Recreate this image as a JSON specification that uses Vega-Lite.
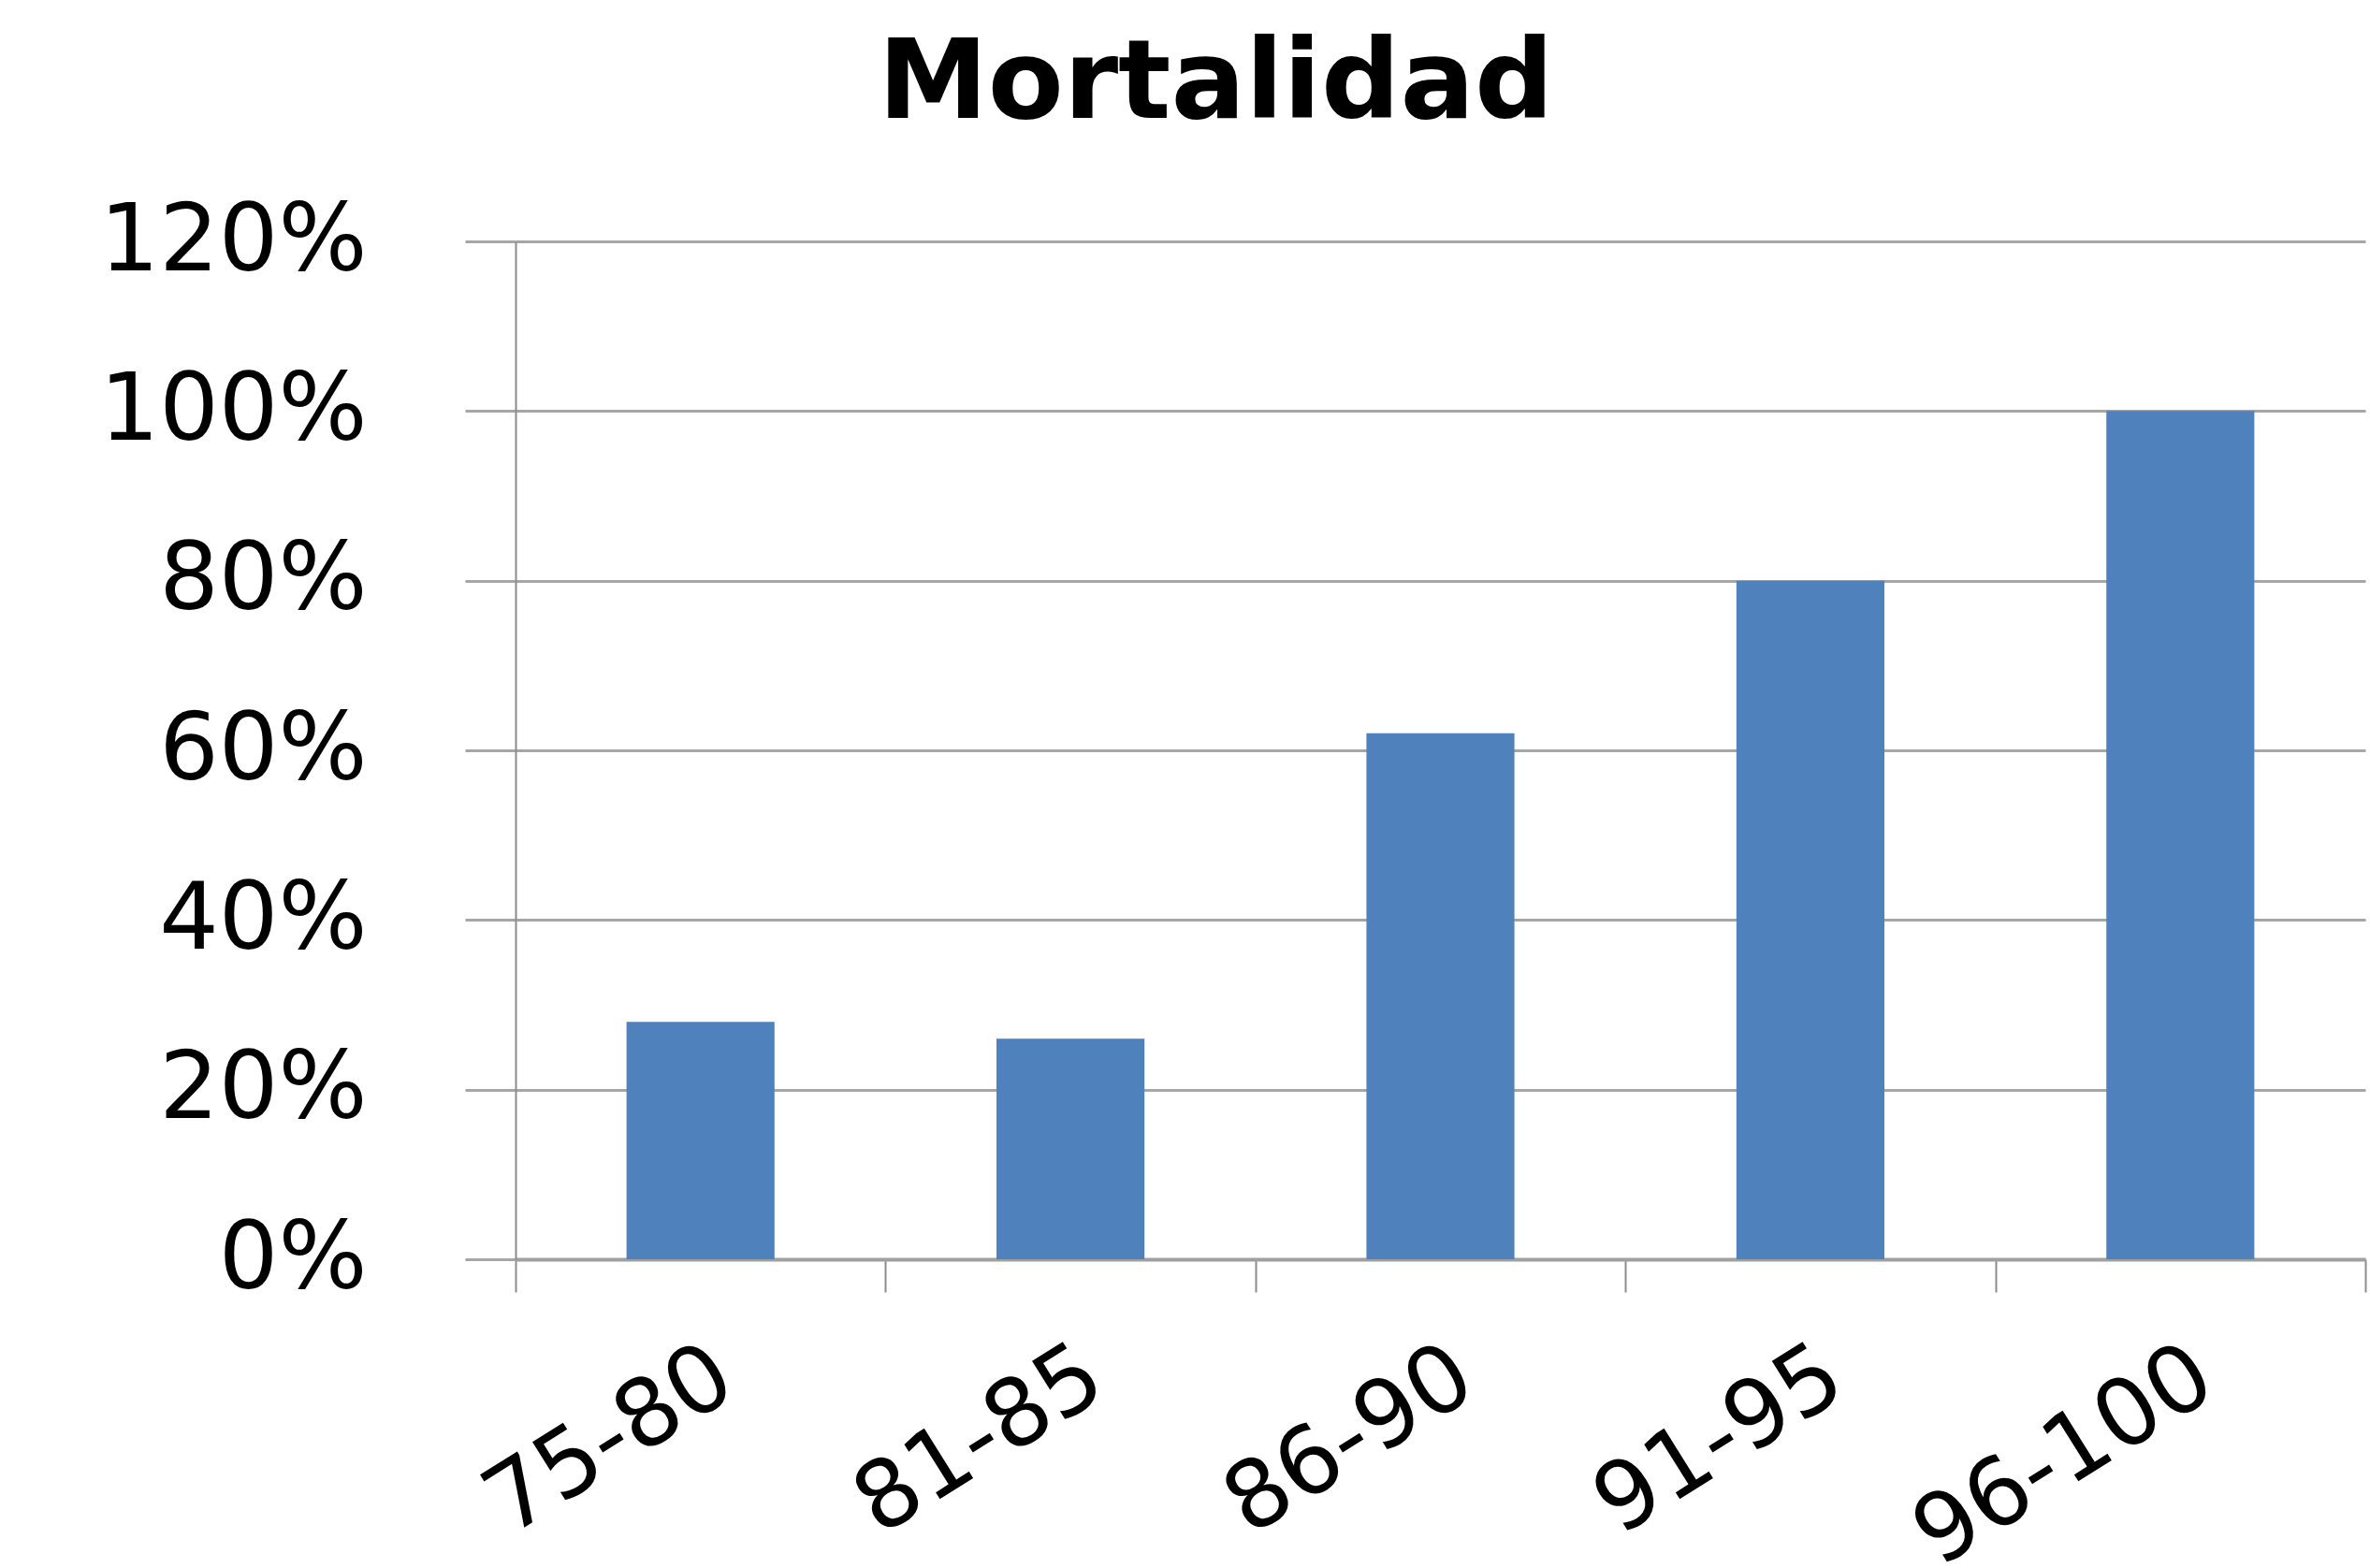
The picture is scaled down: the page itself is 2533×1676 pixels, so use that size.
{
  "$schema": "https://vega.github.io/schema/vega-lite/v6.json",
  "autosize": {"type": "none"},
  "width": 1977,
  "height": 1088,
  "padding": {"left": 551, "top": 258, "right": 5, "bottom": 330},
  "background": "white",
  "title": {
    "text": "Mortalidad",
    "font": "DejaVu Sans",
    "fontSize": 118,
    "fontWeight": "bold",
    "color": "black",
    "anchor": "middle",
    "frame": "group",
    "dx": -240,
    "baseline": "alphabetic",
    "offset": -36
  },
  "data": {
    "values": [
      {"grupo": "75-80", "mortalidad": 0.28},
      {"grupo": "81-85", "mortalidad": 0.26},
      {"grupo": "86-90", "mortalidad": 0.62},
      {"grupo": "91-95", "mortalidad": 0.80},
      {"grupo": "96-100", "mortalidad": 1.00}
    ]
  },
  "mark": {"type": "bar", "color": "#4f81bd", "width": {"band": 0.4}},
  "encoding": {
    "x": {
      "field": "grupo",
      "type": "nominal",
      "sort": null,
      "scale": {"paddingInner": 0, "paddingOuter": 0},
      "axis": {
        "title": null,
        "labelAngle": -32,
        "labelFont": "DejaVu Sans",
        "labelFontSize": 100,
        "labelColor": "black",
        "labelPadding": 40,
        "labelLimit": 0,
        "labelOverlap": false,
        "tickBand": "extent",
        "tickSize": 35,
        "tickWidth": 2,
        "tickColor": "#8c8c8c",
        "domainColor": "#a0a0a0",
        "domainWidth": 4,
        "grid": false
      }
    },
    "y": {
      "field": "mortalidad",
      "type": "quantitative",
      "scale": {"domain": [0, 1.2], "nice": false},
      "axis": {
        "title": null,
        "values": [0, 0.2, 0.4, 0.6, 0.8, 1.0, 1.2],
        "format": ".0%",
        "labelFont": "DejaVu Sans",
        "labelFontSize": 100,
        "labelColor": "black",
        "labelPadding": 105,
        "labelLimit": 0,
        "tickSize": 54,
        "tickWidth": 3,
        "tickColor": "#a6a6a6",
        "grid": true,
        "gridColor": "#a6a6a6",
        "gridWidth": 3,
        "domainColor": "#8c8c8c",
        "domainWidth": 2
      }
    }
  },
  "config": {"view": {"stroke": null}}
}
